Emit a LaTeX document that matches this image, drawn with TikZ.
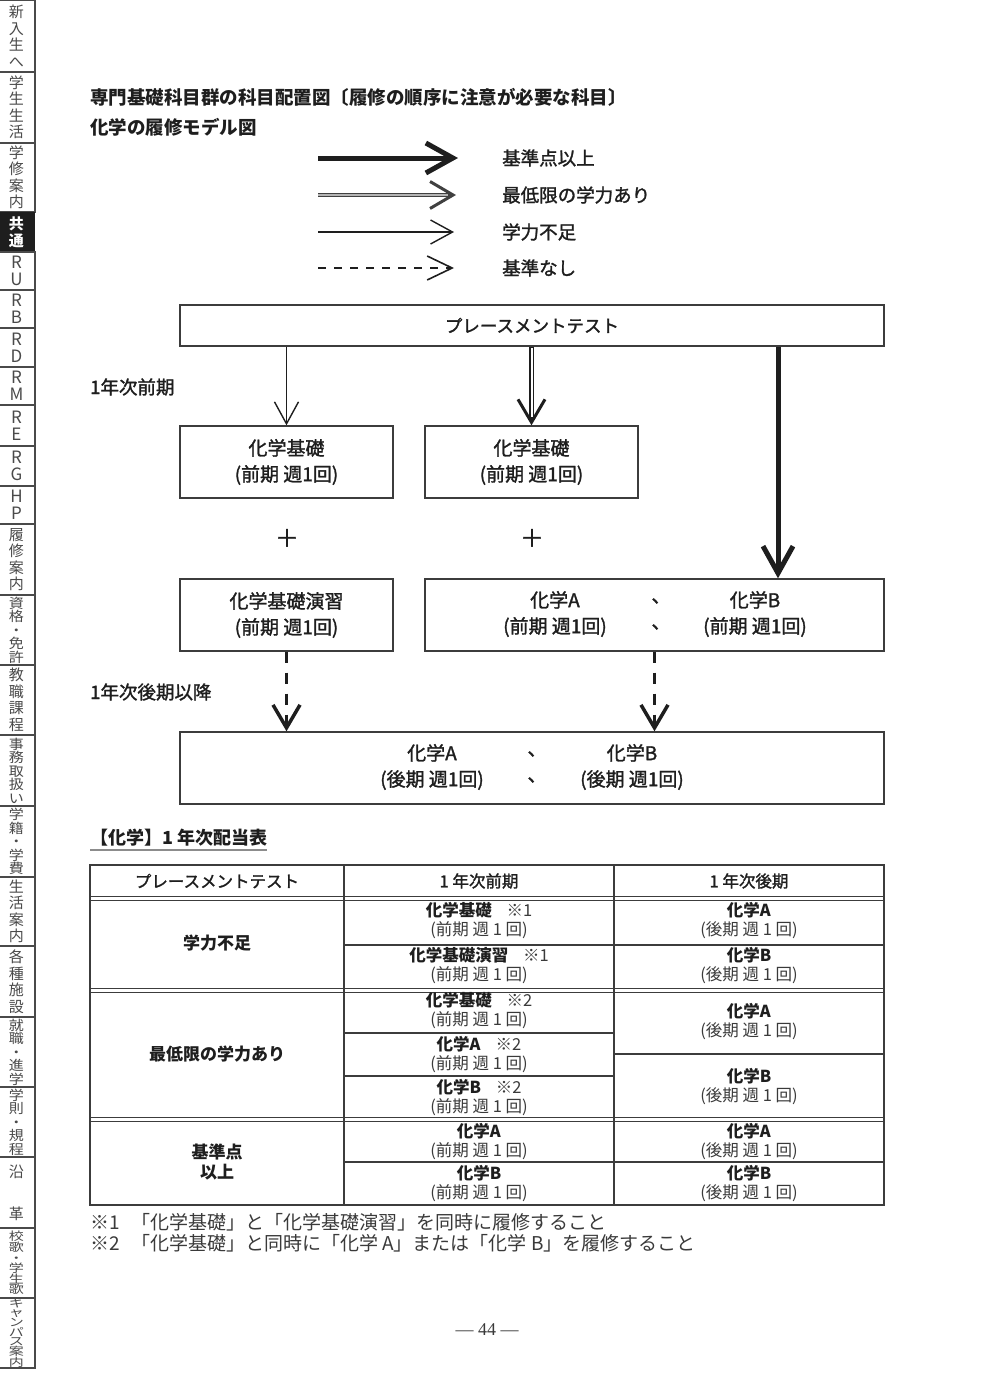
\documentclass[tikz,border=0pt]{standalone}
\usepackage{fontspec}
\setmainfont{Noto Sans CJK JP}
\newfontfamily\medjp{Noto Sans CJK JP}[FakeBold=1.5]
\newfontfamily\pagenumfont{Liberation Serif}
\usetikzlibrary{arrows.meta}
\definecolor{ink}{HTML}{1E1E1E}
\definecolor{subink}{HTML}{3A3A3A}
\definecolor{rulec}{HTML}{3C3C3C}
\definecolor{tabink}{HTML}{4A4A4A}
\definecolor{dblfill}{HTML}{B4B4B4}
\newcommand\fsz[2]{\fontsize{#1}{#2}\selectfont}
\newcommand\sidetab[7]{%
  \draw[tabframe] (-2,#2) rectangle (35,#3);
  \node[tabtext, font=\fsz{#4}{#5}] (#1) at (16.5,{(#2+#3)/2}) {\scalebox{1}[#7]{\parbox{24pt}{\centering #6}}};
}
\newcommand\remark[1]{\hspace{0.9em}{\mdseries\color{subink}※#1}}
\newcommand\cellc[3]{\textbf{#1}#2\\{\color{subink}(#3 週 1 回)}}
\begin{document}
\begin{tikzpicture}[x=1pt,y=-1pt,
  every node/.style={text=ink, inner sep=0pt},
  tabframe/.style={draw=tabink, line width=1.3pt},
  tabtext/.style={align=center, text=tabink},
  box/.style={draw=rulec, line width=1.4pt, inner sep=0pt, align=center, font=\medjp\fsz{19}{26}},
  boxtxt/.style={align=center, font=\medjp\fsz{19}{26}},
  lbl/.style={anchor=west, font=\medjp\fsz{18.5}{22}},
  thinarr/.style={draw=ink, line width=1.4pt, -{Straight Barb[length=22pt,width=24pt,line width=1.4pt]}},
  thickarr/.style={draw=ink, line width=5pt, -{Straight Barb[length=27pt,width=30pt,line width=5pt]}},
  dblout/.style={draw=ink, line width=4.5pt, -{Straight Barb[length=23pt,width=27pt,line width=3pt]}},
  dblin/.style={draw=white, line width=2pt},
  dasharr/.style={draw=ink, line width=3.5pt, dash pattern=on 11pt off 10pt, -{Straight Barb[length=23pt,width=27pt,line width=3.5pt]}},
  legdash/.style={draw=ink, line width=2pt, dash pattern=on 8pt off 8pt, -{Straight Barb[length=25pt,width=24pt,line width=1.6pt]}},
  tcell/.style={align=center, font=\fsz{16.5}{19}},
  thead/.style={font=\medjp\fsz{16.5}{19}},
  tline/.style={draw=rulec, line width=1.2pt},
]
\fill[white] (0,0) rectangle (984,1379);
\useasboundingbox (0,0) rectangle (984,1379);

% ---------- side tabs ----------
\sidetab{tA}{0}{72}{15}{16.5}{新\\入\\生\\へ}{1}
\sidetab{tB}{72}{143}{15}{16.5}{学\\生\\生\\活}{1}
\sidetab{tC}{143}{212}{15}{16.5}{学\\修\\案\\内}{1}
\fill[ink] (-2,212) rectangle (35,252);
\node[align=center, text=white, font=\bfseries\fsz{15}{17}] (tD) at (16.5,232) {共\\通};
\sidetab{tE}{252}{290}{17}{17}{R\\U}{1}
\sidetab{tF}{290}{328}{17}{17}{R\\B}{1}
\sidetab{tG}{328}{367}{17}{17}{R\\D}{1}
\sidetab{tH}{367}{405}{17}{17}{R\\M}{1}
\sidetab{tI}{405}{446}{17}{17}{R\\E}{1}
\sidetab{tJ}{446}{486}{17}{17}{R\\G}{1}
\sidetab{tK}{486}{524}{17}{17}{H\\P}{1}
\sidetab{tL}{524}{595}{15}{16.5}{履\\修\\案\\内}{1}
\sidetab{tM}{595}{665}{15}{15}{資\\格\\・\\免\\許}{0.9}
\sidetab{tN}{665}{735}{15}{16.5}{教\\職\\課\\程}{1}
\sidetab{tO}{735}{806}{15}{15}{事\\務\\取\\扱\\い}{0.9}
\sidetab{tP}{806}{877}{15}{15}{学\\籍\\・\\学\\費}{0.9}
\sidetab{tQ}{877}{946}{15}{16.5}{生\\活\\案\\内}{1}
\sidetab{tR}{946}{1017}{15}{16.5}{各\\種\\施\\設}{1}
\sidetab{tS}{1017}{1087}{15}{15}{就\\職\\・\\進\\学}{0.9}
\sidetab{tT}{1087}{1157}{15}{15}{学\\則\\・\\規\\程}{0.9}
\sidetab{tU}{1157}{1228}{15}{21}{沿\\\mbox{}\\革}{1}
\sidetab{tV}{1228}{1298}{15}{13.5}{校\\歌\\・\\学\\生\\歌}{0.76}
\sidetab{tW}{1298}{1368}{15}{12}{キ\\ャ\\ン\\パ\\ス\\案\\内}{0.74}

% ---------- titles ----------
\node[anchor=west, font=\bfseries\fsz{18.5}{22}] (title1) at (90,97) {専門基礎科目群の科目配置図〔履修の順序に注意が必要な科目〕};
\node[anchor=west, font=\bfseries\fsz{18.5}{22}] (title2) at (90,127) {化学の履修モデル図};

% ---------- legend ----------
\coordinate (L1s) at (318,158); \coordinate (L1e) at (458,158);
\coordinate (L2s) at (318,195); \coordinate (L2e) at (456,195);
\coordinate (L3s) at (318,232); \coordinate (L3e) at (454,232);
\coordinate (L4s) at (318,268); \coordinate (L4e) at (454,268);
\draw[thickarr] (L1s) -- (L1e);
\draw[dblout, draw=black!75] (L2s) -- (L2e);
\draw[dblin, draw=dblfill] (L2s) -- ([xshift=-8pt]L2e);
\draw[thinarr] (L3s) -- (L3e);
\draw[legdash] (L4s) -- (L4e);
\node[lbl] (lg1) at (502,158) {基準点以上};
\node[lbl] (lg2) at (502,195) {最低限の学力あり};
\node[lbl] (lg3) at (502,232) {学力不足};
\node[lbl] (lg4) at (502,268) {基準なし};

% ---------- flow chart ----------
\node[box, minimum width=704, minimum height=41, font=\medjp\fsz{17.5}{20}] (pt) at (532,325.5) {プレースメントテスト};
\node[lbl] (y1) at (90,387) {1年次前期};
\node[box, minimum width=213, minimum height=72] (b1) at (286.5,462) {化学基礎\\(前期 週1回)};
\node[box, minimum width=213, minimum height=72] (b2) at (531.5,462) {化学基礎\\(前期 週1回)};
\node[font=\medjp\fsz{24}{26}] (p1) at (287,538) {＋};
\node[font=\medjp\fsz{24}{26}] (p2) at (532,538) {＋};
\node[box, minimum width=213, minimum height=72] (b3) at (286.5,615) {化学基礎演習\\(前期 週1回)};
\node[box, minimum width=459, minimum height=72] (b4) at (654.5,615) {};
\node[boxtxt] (b4a) at (555,614) {化学A\\(前期 週1回)};
\node[boxtxt] (b4c) at (661,614) {、\\、};
\node[boxtxt] (b4b) at (755,614) {化学B\\(前期 週1回)};
\node[lbl] (y2) at (90,692) {1年次後期以降};
\node[box, minimum width=704, minimum height=72] (b5) at (532,768) {};
\node[boxtxt] (b5a) at (432,767) {化学A\\(後期 週1回)};
\node[boxtxt] (b5c) at (537,767) {、\\、};
\node[boxtxt] (b5b) at (632,767) {化学B\\(後期 週1回)};

\draw[thinarr] (pt.south -| b1.north) -- (b1.north);
\coordinate (d2s) at (pt.south -| b2.north);
\draw[dblout] (d2s) -- (b2.north);
\draw[dblin] ([yshift=-1.5pt]d2s) -- ([yshift=8pt]b2.north);
\coordinate (x3) at (778,0);
\draw[thickarr] (pt.south -| x3) -- (b4.north -| x3);
\draw[dasharr] (b3.south) -- (b5.north -| b3.south);
\draw[dasharr] (b4.south) -- (b5.north -| b4.south);

% ---------- table ----------
\node[anchor=west, font=\bfseries\fsz{18}{20}] (tt) at (90,838) {【化学】1 年次配当表};
\draw[draw=black!45, line width=2pt] ([yshift=-3pt]tt.south west) -- ([yshift=-3pt]tt.south east);

\coordinate (T0) at (90,865); \coordinate (T1) at (884,1205);
\draw[tline] (T0) rectangle (T1);
\draw[tline] (344,865) -- (344,1205);
\draw[tline] (614,865) -- (614,1205);
\foreach \yy in {896,900,988,992,1117,1121} \draw[tline, line width=1pt] (90,\yy) -- (884,\yy);
\draw[tline] (344,945) -- (884,945);
\draw[tline] (344,1033) -- (614,1033);
\draw[tline] (344,1076) -- (614,1076);
\draw[tline] (614,1054) -- (884,1054);
\draw[tline] (344,1162) -- (884,1162);

\node[thead] (h1) at (217,881) {プレースメントテスト};
\node[thead] (h2) at (479,881) {1 年次前期};
\node[thead] (h3) at (749,881) {1 年次後期};

\node[tcell, font=\bfseries\fsz{17}{20}] (g1) at (217,943) {学力不足};
\node[tcell] (c11) at (479,921) {\cellc{化学基礎}{\remark{1}}{前期}};
\node[tcell] (c12) at (479,966) {\cellc{化学基礎演習}{\remark{1}}{前期}};
\node[tcell] (r11) at (749,921) {\cellc{化学A}{}{後期}};
\node[tcell] (r12) at (749,966) {\cellc{化学B}{}{後期}};

\node[tcell, font=\bfseries\fsz{17}{20}] (g2) at (217,1054) {最低限の学力あり};
\node[tcell] (c21) at (479,1011) {\cellc{化学基礎}{\remark{2}}{前期}};
\node[tcell] (c22) at (479,1054) {\cellc{化学A}{\remark{2}}{前期}};
\node[tcell] (c23) at (479,1097) {\cellc{化学B}{\remark{2}}{前期}};
\node[tcell] (r21) at (749,1022) {\cellc{化学A}{}{後期}};
\node[tcell] (r22) at (749,1086) {\cellc{化学B}{}{後期}};

\node[tcell, font=\bfseries\fsz{17}{20}] (g3) at (217,1162) {基準点\\以上};
\node[tcell] (c31) at (479,1141) {\cellc{化学A}{}{前期}};
\node[tcell] (c32) at (479,1183) {\cellc{化学B}{}{前期}};
\node[tcell] (r31) at (749,1141) {\cellc{化学A}{}{後期}};
\node[tcell] (r32) at (749,1183) {\cellc{化学B}{}{後期}};

% ---------- notes ----------
\node[anchor=west, text=subink, font=\fsz{19}{21}] (f1) at (90,1222) {※1\hspace{0.6em}「化学基礎」と「化学基礎演習」を同時に履修すること};
\node[anchor=west, text=subink, font=\fsz{19}{21}] (f2) at (90,1243) {※2\hspace{0.6em}「化学基礎」と同時に「化学 A」または「化学 B」を履修すること};

\node[text=subink, font=\pagenumfont\fsz{18}{20}] (pg) at (487,1330) {— 44 —};
\end{tikzpicture}
\end{document}
